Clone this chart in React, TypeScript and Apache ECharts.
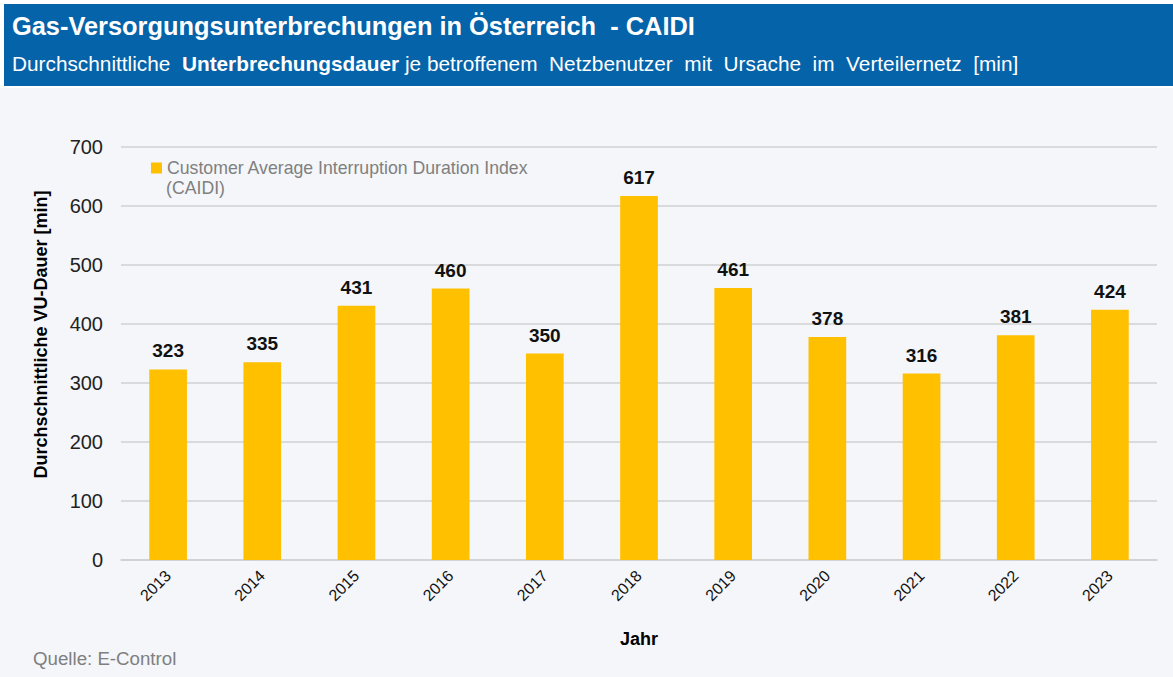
import React, { useEffect, useRef } from "react";
import * as echarts from "echarts";

const years = ["2013", "2014", "2015", "2016", "2017", "2018", "2019", "2020", "2021", "2022", "2023"];
const caidi = [323, 335, 431, 460, 350, 617, 461, 378, 316, 381, 424];
const seriesName = "Customer Average Interruption Duration Index";

export default function App() {
  const ref = useRef<HTMLDivElement>(null);
  useEffect(() => {
    const chart = echarts.init(ref.current!, null, { renderer: "svg" });
    const sans = "'Liberation Sans', Arial, sans-serif";
    chart.setOption({
      animation: false,
      backgroundColor: "#ffffff",
      textStyle: { fontFamily: sans },
      graphic: [
        { type: "rect", shape: { x: 0, y: 88, width: 1173, height: 589 }, style: { fill: "#F4F6FA" }, z: -10 },
        { type: "rect", shape: { x: 4, y: 4, width: 1169, height: 82 }, style: { fill: "#0563A9" } },
        {
          type: "text", x: 12, y: 26,
          style: { text: "Gas-Versorgungsunterbrechungen in Österreich  - CAIDI", fill: "#ffffff", font: `bold 25.4px ${sans}`, verticalAlign: "middle" },
        },
        {
          type: "text", x: 12, y: 63,
          style: {
            rich: {
              n: { fill: "#ffffff", fontSize: 20.8, fontFamily: sans },
              b: { fill: "#ffffff", fontSize: 20.8, fontFamily: sans, fontWeight: "bold" },
            },
            text: "{n|Durchschnittliche  }{b|Unterbrechungsdauer}{n| je betroffenem  Netzbenutzer  mit  Ursache  im  Verteilernetz  [min]}",
            verticalAlign: "middle",
          },
        },
        {
          type: "text", x: 166, y: 188,
          style: { text: "(CAIDI)", fill: "#808080", font: `17.7px ${sans}`, verticalAlign: "middle" },
        },
        {
          type: "text", x: 33, y: 658,
          style: { text: "Quelle: E-Control", fill: "#7F7F7F", font: `18.7px ${sans}`, verticalAlign: "middle" },
        },
      ],
      legend: {
        left: 146, top: 154,
        itemWidth: 11, itemHeight: 11, itemGap: 5, icon: "rect",
        data: [seriesName],
        textStyle: { color: "#808080", fontSize: 17.7 },
      },
      grid: { left: 121, right: 16, top: 147, bottom: 117 },
      xAxis: {
        type: "category",
        data: years,
        name: "Jahr",
        nameLocation: "middle",
        nameGap: 70,
        nameTextStyle: { color: "#000", fontSize: 18, fontWeight: "bold" },
        axisLine: { lineStyle: { color: "#D0D0D0", width: 1.5 } },
        axisTick: { show: false },
        axisLabel: { rotate: 45, color: "#111", fontSize: 16, margin: 13 },
      },
      yAxis: {
        type: "value",
        min: 0, max: 700, interval: 100,
        name: "Durchschnittliche VU-Dauer [min]",
        nameLocation: "middle",
        nameGap: 71,
        nameTextStyle: { color: "#000", fontSize: 18, fontWeight: "bold", padding: [0, 0, 0, 38] },
        axisLabel: { color: "#222", fontSize: 20, margin: 18 },
        splitLine: { lineStyle: { color: "#D0D0D0", width: 1.5 } },
        axisLine: { show: false },
        axisTick: { show: false },
      },
      series: [
        {
          name: seriesName,
          type: "bar",
          data: caidi,
          barWidth: "40%",
          itemStyle: { color: "#FFC000" },
          label: { show: true, position: "top", color: "#111", fontSize: 19, fontWeight: "bold", distance: 9 },
        },
      ],
    });
    return () => chart.dispose();
  }, []);
  return <div ref={ref} style={{ position: "absolute", left: 0, top: 0, width: 1173, height: 677 }} />;
}
